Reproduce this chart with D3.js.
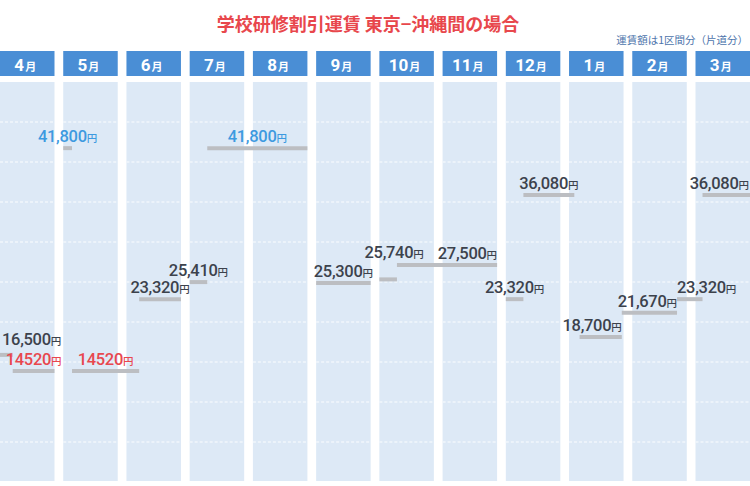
<!DOCTYPE html>
<html><head><meta charset="utf-8">
<script src="https://cdn.jsdelivr.net/npm/d3@7"></script>
<style>body{margin:0;background:#fff}svg{display:block}</style>
</head><body>
<svg id="c" width="750" height="486"></svg>
<script>
// ---- data ----
const months = ["4月","5月","6月","7月","8月","9月","10月","11月","12月","1月","2月","3月"];
const monthDays = [30,31,30,31,31,30,31,30,31,31,28,31];
// fare periods: [month index (0 = April), day]
const periodStart = [[0,1],[0,8],[1,1],[1,6],[2,8],[3,1],[3,11],[5,1],[6,1],[6,11],[8,1],[8,11],[9,7],[9,31],[10,24],[11,5]];
const periodEnd   = [[0,7],[0,30],[1,5],[2,7],[2,30],[3,10],[4,31],[5,30],[6,10],[7,30],[8,10],[9,3],[9,30],[10,23],[11,4],[11,31]];
const fares       = [16500,14520,41800,14520,23320,25410,41800,25300,25740,27500,23320,36080,18700,21670,23320,36080];
const fareLabels  = ["16,500","14520","41,800","14520","23,320","25,410","41,800","25,300","25,740","27,500","23,320","36,080","18,700","21,670","23,320","36,080"];
const fareType    = ["normal","low","peak","low","normal","normal","peak","normal","normal","normal","normal","normal","normal","normal","normal","normal"];
const titleText = "学校研修割引運賃 東京−沖縄間の場合";
const noteText = "運賃額は1区間分（片道分）";

// ---- layout ----
const W = 750, H = 486;
const panelTop = 82, panelBottom = 481, headTop = 51, headBottom = 76;
const labelAlign = {9:"end", 12:"end", 13:"end", 14:"start"};
const labelShift = {0:{dx:0, dy:-4}, 8:{dx:6, dy:-15}};
const typeColor = {normal:"#3c424c", low:"#e8474e", peak:"#3d9ae0"};

const svg = d3.select("#c");
const band = d3.scaleBand().domain(months).range([0, W]).paddingInner(0.138).paddingOuter(0);
const bw = band.bandwidth();
const y = d3.scaleLinear().domain([10000, 45000]).range([408, 122]);
const grid = d3.scaleLinear().domain([0, 10]).range([panelTop, panelTop + 400]);

function xAt(m, d) {
  const s = d3.scaleLinear().domain([0, monthDays[m]]).range([band(months[m]), band(months[m]) + bw]);
  return s(d);
}

// title
svg.append("text").attr("x", 368).attr("y", 31).attr("text-anchor", "middle")
  .attr("font-family", "'Noto Sans CJK JP', sans-serif").attr("font-weight", 700)
  .attr("font-size", 18).attr("fill", "#e8474c").text(titleText);
svg.append("text").attr("x", 748).attr("y", 44).attr("text-anchor", "end")
  .attr("font-family", "'Noto Sans CJK JP', sans-serif").attr("font-size", 10.5)
  .attr("fill", "#4d74ab").text(noteText);

// columns
const col = svg.append("g").selectAll("g").data(months).join("g");
col.append("rect").attr("x", d => band(d)).attr("y", headTop).attr("width", bw)
  .attr("height", headBottom - headTop).attr("fill", "#4a8ed5");
col.append("rect").attr("x", d => band(d)).attr("y", panelTop).attr("width", bw)
  .attr("height", panelBottom - panelTop).attr("fill", "#dde9f6");
col.each(function(d) {
  const g = d3.select(this);
  g.selectAll("line").data(d3.range(1, 10)).join("line")
    .attr("x1", band(d)).attr("x2", band(d) + bw)
    .attr("y1", k => grid(k)).attr("y2", k => grid(k))
    .attr("stroke", "#f1f6fc").attr("stroke-width", 1.5).attr("stroke-dasharray", "3,2");
  const t = g.append("text").attr("x", band(d) + bw / 2 - 2).attr("y", 71)
    .attr("text-anchor", "middle").attr("fill", "#fff").attr("font-weight", 700);
  t.append("tspan").attr("font-family", "Roboto, sans-serif").attr("font-size", 17).text(d.replace("月", ""));
  t.append("tspan").attr("font-family", "'Noto Sans CJK JP', sans-serif").attr("font-size", 11).attr("dx", 1).text("月");
});

// fare segments
const segs = fares.map((v, i) => ({
  v, i,
  x1: xAt(periodStart[i][0], periodStart[i][1] - 1),
  x2: xAt(periodEnd[i][0], periodEnd[i][1]),
  label: fareLabels[i], type: fareType[i]
}));
svg.append("g").selectAll("line").data(segs).join("line")
  .attr("x1", d => d.x1).attr("x2", d => d.x2)
  .attr("y1", d => y(d.v)).attr("y2", d => y(d.v))
  .attr("stroke", "#bcbec2").attr("stroke-width", 4);

// labels
const lg = svg.append("g");
segs.forEach(d => {
  const sh = labelShift[d.i] || {dx:0, dy:0};
  const t = lg.append("text").attr("y", y(d.v) - 6 + sh.dy).attr("text-anchor", "start")
    .attr("fill", typeColor[d.type]).attr("font-weight", 500);
  t.append("tspan").attr("font-family", "Roboto, sans-serif").attr("font-size", 16.5)
    .attr("letter-spacing", -0.3).text(d.label);
  t.append("tspan").attr("font-family", "'Noto Sans CJK JP', sans-serif").attr("font-size", 10.5).text("円");
  const w = t.node().getComputedTextLength();
  const a = labelAlign[d.i] || "middle";
  let x = a === "start" ? d.x1 : a === "end" ? d.x2 - w : (d.x1 + d.x2) / 2 - w / 2;
  x += sh.dx;
  x = Math.max(2, Math.min(W - 1 - w, x));
  t.attr("x", x);
});
</script>
</body></html>
